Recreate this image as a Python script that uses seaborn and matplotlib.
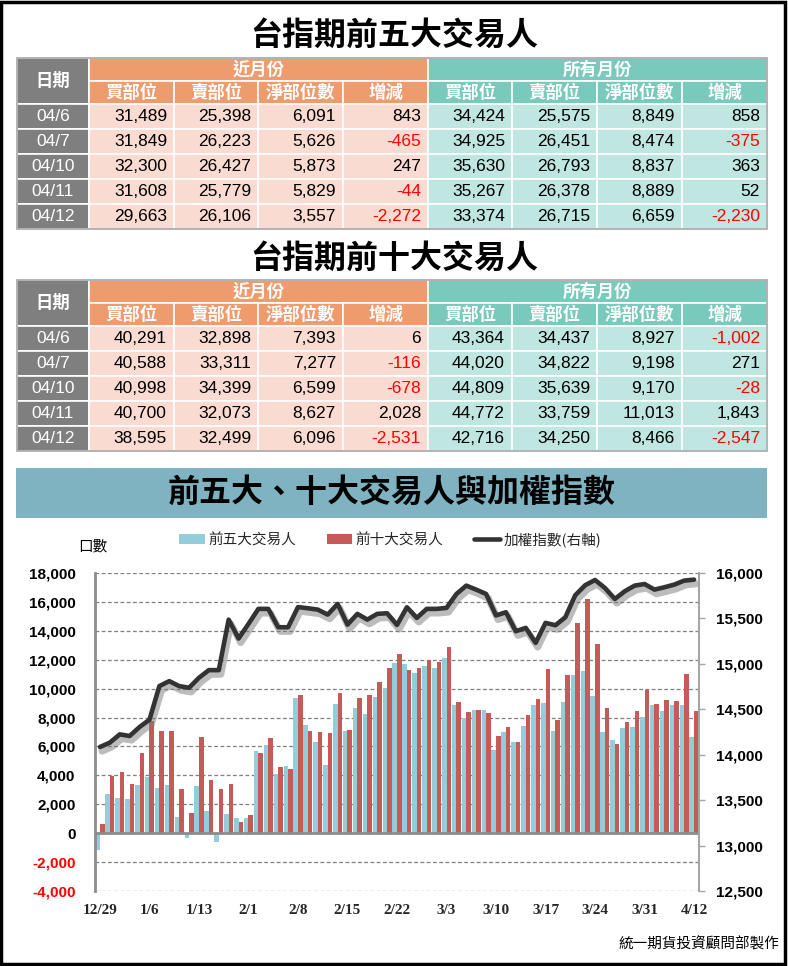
import numpy as np
import pandas as pd
import matplotlib
matplotlib.use("Agg")
import matplotlib.pyplot as plt
import seaborn as sns
from matplotlib.patches import Rectangle, Patch
from matplotlib.lines import Line2D
import matplotlib.patheffects as pe

# ---------------- data ----------------
tbl_dates = ["04/6", "04/7", "04/10", "04/11", "04/12"]

top5_near_buy = [31489, 31849, 32300, 31608, 29663]
top5_near_sell = [25398, 26223, 26427, 25779, 26106]
top5_near_net = [6091, 5626, 5873, 5829, 3557]
top5_near_chg = [843, -465, 247, -44, -2272]
top5_all_buy = [34424, 34925, 35630, 35267, 33374]
top5_all_sell = [25575, 26451, 26793, 26378, 26715]
top5_all_net = [8849, 8474, 8837, 8889, 6659]
top5_all_chg = [858, -375, 363, 52, -2230]

top10_near_buy = [40291, 40588, 40998, 40700, 38595]
top10_near_sell = [32898, 33311, 34399, 32073, 32499]
top10_near_net = [7393, 7277, 6599, 8627, 6096]
top10_near_chg = [6, -116, -678, 2028, -2531]
top10_all_buy = [43364, 44020, 44809, 44772, 42716]
top10_all_sell = [34437, 34822, 35639, 33759, 34250]
top10_all_net = [8927, 9198, 9170, 11013, 8466]
top10_all_chg = [-1002, 271, -28, 1843, -2547]

chart_dates = ["12/29", "12/30", "1/3", "1/4", "1/5", "1/6", "1/9", "1/10", "1/11", "1/12",
               "1/13", "1/16", "1/17", "1/30", "1/31", "2/1", "2/2", "2/3", "2/6", "2/7",
               "2/8", "2/9", "2/10", "2/13", "2/14", "2/15", "2/16", "2/17", "2/20", "2/21",
               "2/22", "2/23", "2/24", "3/1", "3/2", "3/3", "3/6", "3/7", "3/8", "3/9",
               "3/10", "3/13", "3/14", "3/15", "3/16", "3/17", "3/20", "3/21", "3/22", "3/23",
               "3/24", "3/27", "3/28", "3/29", "3/30", "3/31", "4/6", "4/7", "4/10", "4/11",
               "4/12"]
top5_series = [-1170, 2720, 2440, 2350, 3340, 3890, 3130, 3340, 1130, -300,
               3270, 1540, -580, 1360, 1040, 1040, 5660, 6080, 4070, 4650,
               9320, 7480, 6310, 4720, 8910, 7070, 8630, 8220, 9390, 10010,
               11740, 11670, 11050, 11600, 11460, 12150, 8840, 7990, 8490, 8490,
               5730, 6980, 6280, 7390, 8840, 8980, 7070, 9050, 10910, 11190,
               9460, 6980, 6420, 7250, 7320, 8010, 8849, 8474, 8837, 8889,
               6659]
top10_series = [650, 3980, 4240, 3410, 5550, 7760, 7090, 7090, 3060, 1430,
                6650, 3660, 3060, 3410, 780, 1270, 5550, 6580, 4580, 4470,
                9530, 7070, 7000, 6930, 9670, 7140, 9320, 9530, 10450, 11460,
                12430, 11260, 11460, 11970, 11810, 12910, 9050, 8360, 8490, 8290,
                6700, 7320, 6280, 8150, 9250, 11330, 7800, 10910, 14570, 16230,
                13120, 8630, 6150, 7670, 8430, 9940, 8927, 9198, 9170, 11013,
                8466]
taiex = [14085, 14133, 14224, 14206, 14305, 14385, 14755, 14810, 14755, 14737,
         14847, 14931, 14931, 15487, 15279, 15440, 15605, 15605, 15403, 15403,
         15625, 15612, 15597, 15542, 15659, 15432, 15550, 15487, 15550, 15557,
         15428, 15623, 15506, 15605, 15605, 15616, 15769, 15861, 15817, 15769,
         15533, 15568, 15359, 15396, 15231, 15451, 15425, 15513, 15755, 15865,
         15923, 15835, 15714, 15799, 15861, 15879, 15817, 15843, 15872, 15916,
         15927]

series_names = ["前五大交易人", "前十大交易人"]
line_name = "加權指數(右軸)"
left_ticks = list(range(-4000, 18001, 2000))
right_ticks = list(range(12500, 16001, 500))
xtick_every = 5

# ---------------- style ----------------
sns.set_style("white")
CJK = ["Noto Sans CJK TC", "DejaVu Sans"]
NUM = ["Liberation Sans Narrow", "Liberation Sans", "DejaVu Sans"]
plt.rcParams["font.family"] = CJK

BLUE = "#92CDDC"
RED = "#C55A58"
GRAY = "#7F7F7F"
ORANGE_H = "#EE9B6E"
ORANGE_C = "#F9DBD1"
TEAL_H = "#79C9BC"
TEAL_C = "#BFE6E0"

W, H = 788, 966
fig = plt.figure(figsize=(W / 100, H / 100), dpi=100)
tax = fig.add_axes([0, 0, 1, 1])
tax.set_xlim(0, W)
tax.set_ylim(H, 0)
tax.axis("off")

col_edges = [17, 89, 174, 258, 343, 428, 512, 597, 682, 767]
sub_heads = ["買部位", "賣部位", "淨部位數", "增減"] * 2


def fmt(v):
    return f"{v:,}"


def draw_table(title, title_y, top, cols):
    tax.text(W / 2, title_y, title, ha="center", va="center", fontsize=23,
             fontweight="bold", color="black", family=CJK)
    h1, h2, rh = 23, 23, 25
    # header
    tax.add_patch(Rectangle((col_edges[0], top), col_edges[1] - col_edges[0], h1 + h2,
                            fc=GRAY, ec="white", lw=1.2))
    tax.text((col_edges[0] + col_edges[1]) / 2, top + (h1 + h2) / 2, "日期", ha="center",
             va="center", color="white", fontsize=12.5, fontweight="bold", family=CJK)
    for c0, c1, col, lab in [(1, 5, ORANGE_H, "近月份"), (5, 9, TEAL_H, "所有月份")]:
        tax.add_patch(Rectangle((col_edges[c0], top), col_edges[c1] - col_edges[c0], h1,
                                fc=col, ec="white", lw=1.2))
        tax.text((col_edges[c0] + col_edges[c1]) / 2, top + h1 / 2, lab, ha="center",
                 va="center", color="white", fontsize=12.5, fontweight="bold", family=CJK)
    for j in range(8):
        x0, x1 = col_edges[j + 1], col_edges[j + 2]
        col = ORANGE_H if j < 4 else TEAL_H
        tax.add_patch(Rectangle((x0, top + h1), x1 - x0, h2, fc=col, ec="white", lw=1.2))
        tax.text((x0 + x1) / 2, top + h1 + h2 / 2, sub_heads[j], ha="center", va="center",
                 color="white", fontsize=12.5, fontweight="bold", family=CJK)
    # body
    y = top + h1 + h2
    for r, d in enumerate(tbl_dates):
        tax.add_patch(Rectangle((col_edges[0], y), col_edges[1] - col_edges[0], rh,
                                fc=GRAY, ec="white", lw=1.2))
        tax.text((col_edges[0] + col_edges[1]) / 2, y + rh / 2, d, ha="center", va="center",
                 color="white", fontsize=12.5, family=NUM)
        for j in range(8):
            x0, x1 = col_edges[j + 1], col_edges[j + 2]
            fc = ORANGE_C if j < 4 else TEAL_C
            tax.add_patch(Rectangle((x0, y), x1 - x0, rh, fc=fc, ec="white", lw=1.2))
            v = cols[j][r]
            tax.text(x1 - 7, y + rh / 2, fmt(v), ha="right", va="center",
                     color="#FF0000" if v < 0 else "black", fontsize=12.5, family=NUM)
        y += rh
    tax.add_patch(Rectangle((col_edges[0], top), col_edges[-1] - col_edges[0], y - top,
                            fill=False, ec="#A6A6A6", lw=1.2))


draw_table("台指期前五大交易人", 36, 58,
           [top5_near_buy, top5_near_sell, top5_near_net, top5_near_chg,
            top5_all_buy, top5_all_sell, top5_all_net, top5_all_chg])
draw_table("台指期前十大交易人", 259, 280,
           [top10_near_buy, top10_near_sell, top10_near_net, top10_near_chg,
            top10_all_buy, top10_all_sell, top10_all_net, top10_all_chg])

# banner
tax.add_patch(Rectangle((16, 468), 751, 50, fc="#80B3C1", ec="none"))
tax.text(392, 493, "前五大、十大交易人與加權指數", ha="center", va="center",
         fontsize=23, fontweight="bold", color="black", family=CJK)

# ---------------- chart ----------------
ax = fig.add_axes([95 / W, (H - 891) / H, 604 / W, 318 / H])
df = pd.DataFrame({
    "date": chart_dates * 2,
    "value": top5_series + top10_series,
    "series": [series_names[0]] * len(chart_dates) + [series_names[1]] * len(chart_dates),
})
sns.barplot(data=df, x="date", y="value", hue="series", order=chart_dates,
            hue_order=series_names, palette=[BLUE, RED], saturation=1, width=0.92,
            dodge=True, ax=ax, legend=False, linewidth=0, edgecolor="none")
ax.set_xlim(-0.5, len(chart_dates) - 0.5)
ax.set_ylim(left_ticks[0], left_ticks[-1])
ax.set_yticks(left_ticks)
ax.set_yticklabels([fmt(v) for v in left_ticks], family=["Liberation Sans", "DejaVu Sans"],
                   fontweight="bold", fontsize=11)
for lab, v in zip(ax.get_yticklabels(), left_ticks):
    lab.set_color("#FF0000" if v < 0 else "black")
ax.set_xticks(range(0, len(chart_dates), xtick_every))
ax.set_xticklabels(chart_dates[::xtick_every], family=["Liberation Serif", "DejaVu Serif"],
                   fontweight="bold", fontsize=11)
ax.tick_params(axis="x", length=0, pad=9)
ax.tick_params(axis="y", length=0, pad=14)
ax.set_xlabel("")
ax.set_ylabel("")
ax.grid(axis="y", linestyle=(0, (3, 2)), color="#7F7F7F", lw=0.9)
ax.grid(axis="x", visible=False)
ax.set_axisbelow(True)
ax.axhline(0, color="#8C8C8C", lw=2, zorder=1.5)
for s in ["top", "right", "bottom"]:
    ax.spines[s].set_visible(False)
ax.spines["left"].set_color("#8C8C8C")
ax.spines["left"].set_linewidth(2)

ax2 = ax.twinx()
sns.lineplot(x=np.arange(len(taiex)), y=taiex, ax=ax2, color="#333333", lw=3.3)
ax2.lines[0].set_path_effects([
    pe.SimpleLineShadow(offset=(1.5, -3), shadow_color="#7A7A7A", alpha=0.5, linewidth=5),
    pe.Normal()])
ax2.set_xlim(-0.5, len(chart_dates) - 0.5)
ax2.set_ylim(right_ticks[0], right_ticks[-1])
ax2.set_yticks(right_ticks)
ax2.set_yticklabels([fmt(v) for v in right_ticks], family=["Liberation Sans", "DejaVu Sans"],
                    fontweight="bold", fontsize=11, color="black")
ax2.tick_params(axis="y", length=4, width=1, color="#A6A6A6", pad=8, direction="out")
ax2.set_xlabel("")
ax2.set_ylabel("")
ax2.grid(False)
for s in ["top", "left", "bottom"]:
    ax2.spines[s].set_visible(False)
ax2.spines["right"].set_color("#A6A6A6")
ax2.spines["right"].set_linewidth(1.5)

# legend & labels
handles = [Patch(facecolor=BLUE, edgecolor="none"), Patch(facecolor=RED, edgecolor="none"),
           Line2D([], [], color="#333333", lw=3.3)]
fig.legend(handles=handles, labels=series_names + [line_name], loc="center",
           bbox_to_anchor=(390 / W, 1 - 540 / H), ncol=3, frameon=False,
           handlelength=1.75, handleheight=0.7, handletextpad=0.25, columnspacing=2.1,
           prop={"family": CJK, "size": 10.5})
tax.text(93, 546, "口數", ha="center", va="center", fontsize=10.5, color="black", family=CJK)
tax.text(779, 944, "統一期貨投資顧問部製作", ha="right", va="center", fontsize=10.5,
         color="black", family=CJK)

# outer frame
tax.add_patch(Rectangle((1.5, 1.5), W - 4, H - 4, fill=False, ec="black", lw=2.5))

fig.savefig("out.png", dpi=100)
